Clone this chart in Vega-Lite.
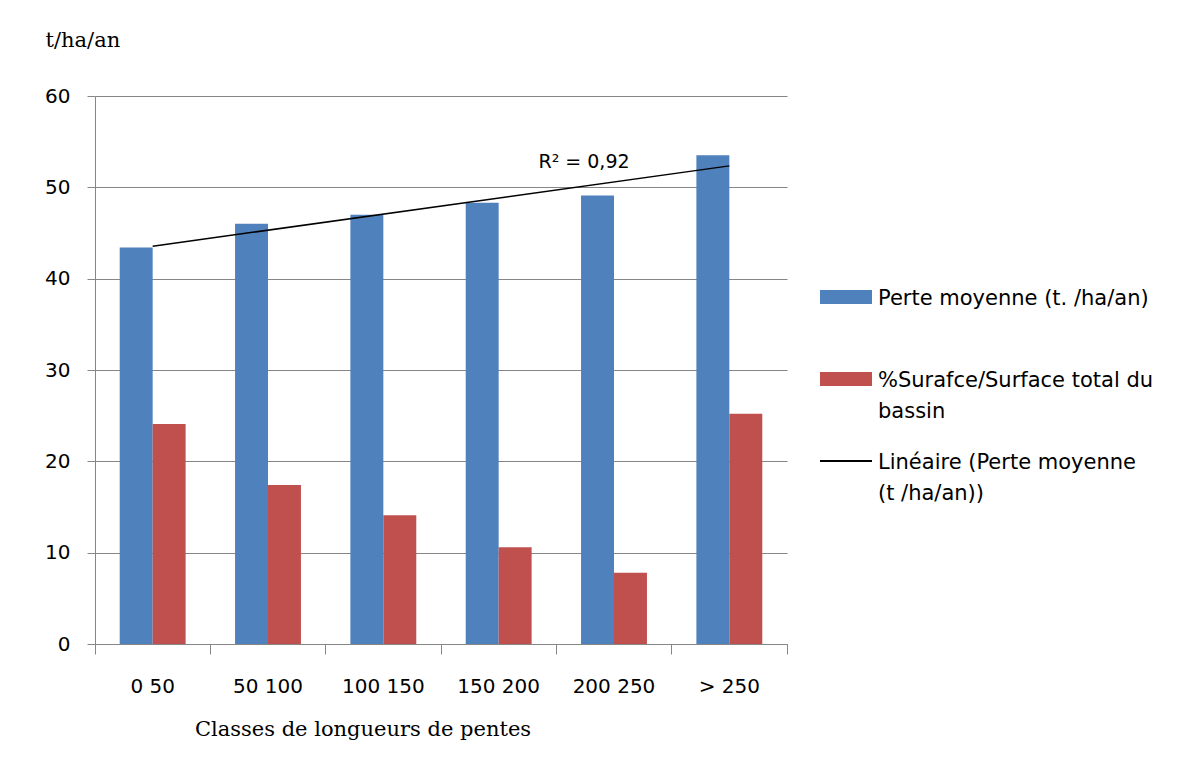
{
  "$schema": "https://vega.github.io/schema/vega-lite/v6.json",
  "width": 692,
  "height": 548,
  "autosize": "none",
  "padding": {"left": 95, "top": 96, "right": 407, "bottom": 131},
  "background": "white",
  "datasets": {
    "barres": [
      {"classe": "0 50", "serie": "Perte moyenne (t. /ha/an)", "valeur": 43.4},
      {"classe": "50 100", "serie": "Perte moyenne (t. /ha/an)", "valeur": 46.0},
      {"classe": "100 150", "serie": "Perte moyenne (t. /ha/an)", "valeur": 47.0},
      {"classe": "150 200", "serie": "Perte moyenne (t. /ha/an)", "valeur": 48.3},
      {"classe": "200 250", "serie": "Perte moyenne (t. /ha/an)", "valeur": 49.1},
      {"classe": "> 250", "serie": "Perte moyenne (t. /ha/an)", "valeur": 53.5},
      {"classe": "0 50", "serie": "%Surafce/Surface total du bassin", "valeur": 24.1},
      {"classe": "50 100", "serie": "%Surafce/Surface total du bassin", "valeur": 17.4},
      {"classe": "100 150", "serie": "%Surafce/Surface total du bassin", "valeur": 14.1},
      {"classe": "150 200", "serie": "%Surafce/Surface total du bassin", "valeur": 10.6},
      {"classe": "200 250", "serie": "%Surafce/Surface total du bassin", "valeur": 7.8},
      {"classe": "> 250", "serie": "%Surafce/Surface total du bassin", "valeur": 25.2}
    ],
    "tendance": [
      {"classe": "0 50", "valeur": 43.55},
      {"classe": "> 250", "valeur": 52.35}
    ],
    "annotation": [
      {"classe": "200 250", "valeur": 52.8, "texte": "R² = 0,92"}
    ]
  },
  "layer": [
    {
      "data": {"name": "barres"},
      "mark": {"type": "bar"},
      "encoding": {
        "x": {
          "field": "classe",
          "type": "nominal",
          "sort": ["0 50", "50 100", "100 150", "150 200", "200 250", "> 250"],
          "scale": {"paddingInner": 0, "paddingOuter": 0},
          "axis": {
            "title": "Classes de longueurs de pentes",
            "titleFont": "DejaVu Serif",
            "titleFontSize": 21,
            "titleFontWeight": "normal",
            "titleColor": "black",
            "titleX": 267.5,
            "titleY": 85,
            "titleAlign": "center",
            "titleBaseline": "middle",
            "labelAngle": 0,
            "labelFont": "DejaVu Sans",
            "labelFontSize": 20,
            "labelColor": "black",
            "labelBaseline": "top",
            "labelPadding": 22,
            "bandPosition": 1,
            "tickExtra": true,
            "labelOffset": 0,
            "tickSize": 10,
            "tickColor": "#868686",
            "domainColor": "#868686",
            "grid": false
          }
        },
        "xOffset": {
          "field": "serie",
          "type": "nominal",
          "sort": ["Perte moyenne (t. /ha/an)", "%Surafce/Surface total du bassin"],
          "scale": {"paddingInner": 0, "paddingOuter": 0.75}
        },
        "y": {
          "field": "valeur",
          "type": "quantitative",
          "scale": {"domain": [0, 60], "nice": false},
          "axis": {
            "title": "t/ha/an",
            "titleAngle": 0,
            "titleFont": "DejaVu Serif",
            "titleFontSize": 21,
            "titleFontWeight": "normal",
            "titleColor": "black",
            "titleX": -50,
            "titleY": -56,
            "titleAlign": "left",
            "titleBaseline": "middle",
            "values": [0, 10, 20, 30, 40, 50, 60],
            "labelFont": "DejaVu Sans",
            "labelFontSize": 20,
            "labelColor": "black",
            "labelPadding": 17,
            "tickSize": 8,
            "tickColor": "#868686",
            "domainColor": "#868686",
            "gridColor": "#868686",
            "grid": true
          }
        },
        "color": {
          "field": "serie",
          "type": "nominal",
          "scale": {
            "domain": ["Perte moyenne (t. /ha/an)", "%Surafce/Surface total du bassin", "Linéaire (Perte moyenne (t /ha/an))"],
            "range": ["#4F81BD", "#C0504D", "#000000"]
          },
          "legend": {
            "title": null,
            "orient": "none",
            "legendX": 725,
            "legendY": 175,
            "symbolSize": 2704,
            "labelFont": "DejaVu Sans",
            "labelFontSize": 21,
            "labelColor": "black",
            "labelOffset": 6,
            "labelLimit": 400,
            "labelBaseline": "alphabetic",
            "rowPadding": 13,
            "labelExpr": "datum.label == '%Surafce/Surface total du bassin' ? ['%Surafce/Surface total du', 'bassin'] : datum.label == 'Linéaire (Perte moyenne (t /ha/an))' ? ['Linéaire (Perte moyenne', '(t /ha/an))'] : [datum.label, ' ']",
            "encode": {
              "symbols": {
                "update": {
                  "shape": {"signal": "datum.value == 'Linéaire (Perte moyenne (t /ha/an))' ? 'M-1,-0.04H1V0.04H-1Z' : 'M-1,-0.27H1V0.27H-1Z'"},
                  "fill": {"scale": "color", "field": "value"},
                  "strokeWidth": {"value": 0}
                }
              },
              "labels": {
                "update": {
                  "lineHeight": {"value": 31},
                  "dy": {"value": 8}
                }
              }
            }
          }
        }
      }
    },
    {
      "data": {"name": "tendance"},
      "mark": {"type": "line", "color": "black", "strokeWidth": 1.5},
      "encoding": {
        "x": {"field": "classe", "type": "nominal", "sort": ["0 50", "50 100", "100 150", "150 200", "200 250", "> 250"]},
        "y": {"field": "valeur", "type": "quantitative"}
      }
    },
    {
      "data": {"name": "annotation"},
      "mark": {"type": "text", "font": "DejaVu Sans", "fontSize": 19, "color": "black", "align": "center", "baseline": "middle", "dx": -30},
      "encoding": {
        "x": {"field": "classe", "type": "nominal", "sort": ["0 50", "50 100", "100 150", "150 200", "200 250", "> 250"]},
        "y": {"field": "valeur", "type": "quantitative"},
        "text": {"field": "texte"}
      }
    }
  ],
  "config": {
    "view": {"stroke": null}
  }
}
